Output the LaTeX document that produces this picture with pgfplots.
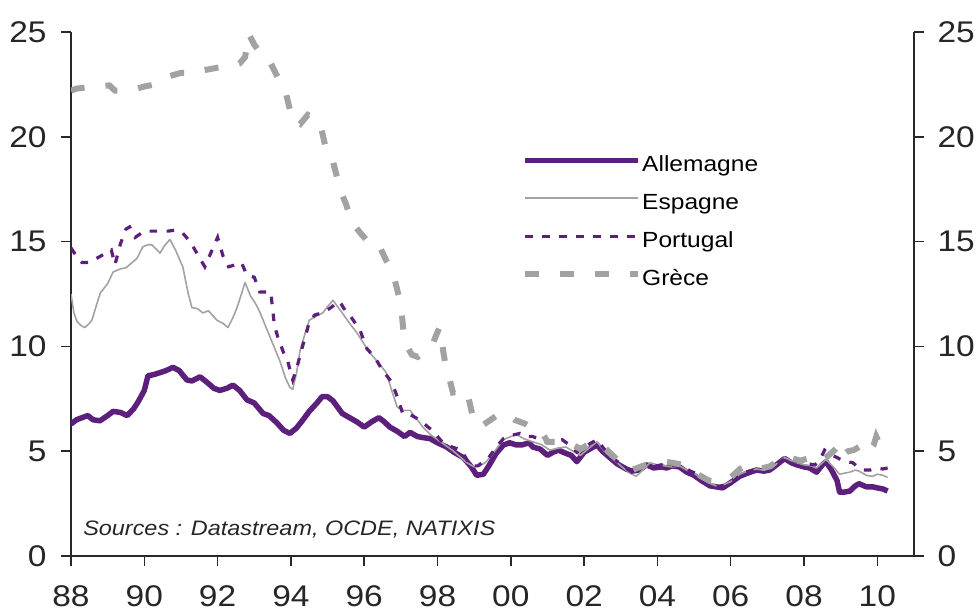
\documentclass[border=0pt]{standalone}
\usepackage{fontspec}
\setmainfont{Liberation Sans}[FakeStretch=1.12]
\usepackage{pgfplots}
\pgfplotsset{compat=1.18}
\definecolor{violet}{RGB}{92,32,124}
\definecolor{gris}{RGB}{162,162,162}
\definecolor{axe}{RGB}{40,40,40}

\pgfplotstableread{
x y
1988.0 6.3
1988.15 6.5
1988.3 6.6
1988.46 6.7
1988.6 6.5
1988.79 6.45
1989.0 6.7
1989.15 6.9
1989.35 6.85
1989.53 6.7
1989.7 7.0
1989.83 7.35
1990.0 7.9
1990.1 8.6
1990.25 8.65
1990.43 8.75
1990.6 8.85
1990.78 9.0
1990.95 8.85
1991.16 8.4
1991.3 8.35
1991.52 8.55
1991.7 8.3
1991.9 8.0
1992.06 7.9
1992.25 8.0
1992.42 8.15
1992.6 7.9
1992.8 7.45
1993.0 7.3
1993.24 6.8
1993.4 6.7
1993.62 6.35
1993.8 6.0
1993.97 5.85
1994.15 6.1
1994.33 6.5
1994.5 6.9
1994.71 7.3
1994.85 7.6
1995.0 7.6
1995.15 7.4
1995.4 6.8
1995.6 6.6
1995.8 6.4
1996.0 6.15
1996.2 6.4
1996.4 6.6
1996.55 6.4
1996.7 6.15
1996.9 5.95
1997.1 5.7
1997.25 5.9
1997.45 5.7
1997.6 5.65
1997.8 5.6
1998.0 5.4
1998.25 5.2
1998.45 4.95
1998.7 4.7
1998.9 4.3
1999.07 3.85
1999.25 3.9
1999.4 4.3
1999.6 4.9
1999.8 5.3
1999.97 5.4
2000.15 5.3
2000.3 5.3
2000.5 5.4
2000.6 5.2
2000.8 5.1
2001.0 4.8
2001.15 4.95
2001.3 5.05
2001.5 4.9
2001.65 4.8
2001.8 4.5
2002.0 4.95
2002.2 5.15
2002.35 5.3
2002.5 5.0
2002.7 4.7
2002.9 4.4
2003.15 4.15
2003.3 4.05
2003.5 4.1
2003.7 4.35
2003.9 4.2
2004.1 4.25
2004.25 4.2
2004.4 4.3
2004.6 4.25
2004.8 4.0
2005.0 3.85
2005.2 3.6
2005.43 3.35
2005.6 3.3
2005.78 3.25
2006.0 3.5
2006.24 3.8
2006.45 3.95
2006.7 4.1
2006.9 4.05
2007.06 4.1
2007.25 4.35
2007.47 4.65
2007.65 4.45
2007.8 4.35
2008.0 4.25
2008.15 4.2
2008.34 4.0
2008.5 4.35
2008.6 4.5
2008.75 4.1
2008.9 3.6
2008.97 3.05
2009.1 3.05
2009.25 3.1
2009.4 3.35
2009.5 3.45
2009.7 3.3
2009.87 3.3
2010.0 3.25
2010.15 3.2
2010.28 3.1
}\allemagne

\pgfplotstableread{
x y
1988.0 12.5
1988.08 11.6
1988.16 11.2
1988.27 11.0
1988.38 10.9
1988.5 11.1
1988.57 11.25
1988.7 12.0
1988.8 12.55
1989.0 13.0
1989.15 13.55
1989.35 13.7
1989.5 13.75
1989.6 13.9
1989.8 14.2
1989.96 14.75
1990.1 14.85
1990.2 14.85
1990.35 14.6
1990.43 14.45
1990.55 14.8
1990.7 15.1
1990.85 14.6
1991.05 13.8
1991.2 12.5
1991.3 11.85
1991.45 11.8
1991.6 11.6
1991.75 11.7
1991.98 11.25
1992.15 11.1
1992.28 10.9
1992.4 11.3
1992.53 11.85
1992.65 12.5
1992.75 13.05
1992.9 12.4
1993.05 12.0
1993.15 11.65
1993.3 11.0
1993.5 10.15
1993.7 9.3
1993.85 8.5
1993.97 8.05
1994.05 7.95
1994.15 8.7
1994.25 9.8
1994.4 10.7
1994.5 11.25
1994.7 11.45
1994.87 11.6
1995.0 11.9
1995.15 12.2
1995.25 11.95
1995.4 11.6
1995.6 11.1
1995.8 10.65
1996.0 10.1
1996.15 9.7
1996.35 9.3
1996.6 8.75
1996.75 7.9
1996.9 7.1
1997.05 6.95
1997.25 6.95
1997.45 6.5
1997.6 6.15
1997.8 5.8
1998.0 5.55
1998.2 5.3
1998.4 5.05
1998.6 4.75
1998.8 4.45
1999.0 4.25
1999.15 4.3
1999.3 4.45
1999.43 4.7
1999.6 5.1
1999.8 5.55
2000.0 5.7
2000.15 5.8
2000.35 5.6
2000.6 5.45
2000.85 5.3
2001.07 5.05
2001.3 5.15
2001.5 5.2
2001.7 5.0
2001.9 4.8
2002.1 5.1
2002.35 5.45
2002.55 5.0
2002.8 4.6
2003.1 4.15
2003.3 3.9
2003.42 3.8
2003.6 4.1
2003.8 4.45
2004.0 4.35
2004.2 4.3
2004.4 4.25
2004.6 4.3
2004.8 4.1
2005.0 3.95
2005.2 3.7
2005.45 3.45
2005.6 3.35
2005.8 3.4
2006.0 3.55
2006.24 3.9
2006.45 4.05
2006.7 4.15
2006.9 4.1
2007.06 4.15
2007.25 4.4
2007.47 4.7
2007.65 4.55
2007.8 4.45
2008.0 4.35
2008.2 4.3
2008.34 4.2
2008.5 4.45
2008.6 4.6
2008.8 4.25
2008.97 3.9
2009.1 3.95
2009.25 4.0
2009.4 4.1
2009.5 4.05
2009.7 3.85
2009.87 3.8
2010.0 3.9
2010.15 3.85
2010.28 3.75
}\espagne

\pgfplotstableread{
x y
1988.0 14.7
1988.15 14.3
1988.3 14.0
1988.5 14.0
1988.7 14.2
1988.9 14.4
1989.1 14.6
1989.2 13.9
1989.35 14.9
1989.5 15.6
1989.6 15.7
1989.75 15.2
1990.0 15.5
1990.2 15.5
1990.43 15.5
1990.65 15.5
1990.85 15.55
1991.05 15.4
1991.25 15.0
1991.45 14.4
1991.65 13.8
1991.85 14.6
1992.0 15.2
1992.15 14.3
1992.3 13.8
1992.5 13.9
1992.65 14.0
1992.8 13.4
1993.0 13.3
1993.15 12.6
1993.45 12.6
1993.55 11.0
1993.65 10.4
1993.8 9.7
1993.9 9.4
1994.0 8.7
1994.05 8.4
1994.15 8.9
1994.3 9.9
1994.4 10.5
1994.5 11.15
1994.65 11.5
1994.85 11.6
1995.05 11.8
1995.2 12.0
1995.33 12.15
1995.45 11.8
1995.6 11.5
1995.88 10.8
1996.07 9.9
1996.3 9.45
1996.5 8.85
1996.75 8.3
1996.9 7.6
1997.05 6.8
1997.25 6.75
1997.5 6.5
1997.85 6.0
1998.15 5.4
1998.4 5.2
1998.65 5.05
1998.9 4.3
1999.1 4.3
1999.4 4.7
1999.6 5.2
1999.8 5.6
2000.0 5.75
2000.25 5.85
2000.4 5.7
2000.6 5.7
2000.8 5.55
2001.0 5.4
2001.2 5.5
2001.4 5.55
2001.6 5.3
2001.8 4.95
2002.05 5.25
2002.35 5.55
2002.55 5.1
2002.8 4.65
2003.1 4.25
2003.3 4.0
2003.45 4.0
2003.65 4.35
2003.85 4.25
2004.1 4.35
2004.3 4.3
2004.5 4.35
2004.7 4.25
2004.9 4.05
2005.1 3.9
2005.3 3.55
2005.45 3.35
2005.65 3.3
2005.85 3.4
2006.05 3.6
2006.25 3.9
2006.5 4.05
2006.7 4.15
2006.9 4.1
2007.1 4.15
2007.3 4.45
2007.5 4.65
2007.7 4.55
2007.9 4.5
2008.1 4.4
2008.3 4.35
2008.45 4.65
2008.56 5.05
2008.7 4.85
2008.9 4.7
2009.0 4.6
2009.15 4.5
2009.33 4.45
2009.5 4.2
2009.6 4.1
2009.8 4.1
2010.0 4.2
2010.15 4.15
2010.28 4.2
}\portugal

\pgfplotstableread{
x y
1988.0 22.2
1988.15 22.3
1988.4 22.35
1988.7 22.4
1989.05 22.45
1989.2 22.2
1989.5 22.2
1989.8 22.3
1990.0 22.4
1990.3 22.5
1990.7 22.9
1991.0 23.05
1991.3 23.05
1991.7 23.2
1992.0 23.3
1992.3 23.35
1992.6 23.5
1992.75 23.8
1992.85 24.9
1993.0 24.4
1993.2 23.9
1993.45 23.5
1993.65 22.8
1993.85 22.2
1994.05 20.7
1994.25 20.6
1994.46 21.05
1994.65 20.9
1994.8 20.6
1995.0 19.1
1995.15 18.8
1995.35 17.45
1995.5 16.8
1995.67 15.9
1995.9 15.4
1996.1 15.0
1996.37 14.95
1996.6 14.1
1996.78 13.55
1997.0 12.0
1997.1 10.2
1997.3 9.6
1997.46 9.5
1997.65 9.8
1997.85 10.05
1998.05 10.9
1998.2 9.3
1998.42 7.8
1998.6 7.85
1998.8 7.9
1999.0 6.35
1999.2 6.2
1999.45 6.5
1999.7 6.8
1999.9 6.75
2000.1 6.5
2000.4 6.3
2000.7 6.0
2000.85 5.9
2001.0 5.45
2001.3 5.45
2001.6 5.4
2001.9 5.1
2002.1 5.3
2002.4 5.35
2002.6 5.1
2002.9 4.6
2003.1 4.3
2003.3 4.1
2003.6 4.3
2003.97 4.5
2004.2 4.5
2004.4 4.45
2004.7 4.35
2004.9 4.1
2005.15 3.85
2005.4 3.6
2005.6 3.55
2005.8 3.6
2006.0 3.75
2006.25 4.15
2006.5 4.35
2006.7 4.2
2006.9 4.2
2007.1 4.3
2007.3 4.6
2007.5 4.75
2007.7 4.65
2007.9 4.55
2008.2 4.7
2008.4 4.5
2008.6 4.7
2008.8 5.0
2008.97 5.3
2009.05 4.8
2009.2 5.0
2009.35 5.05
2009.5 5.2
2009.6 4.9
2009.75 4.95
2009.9 5.3
2009.97 5.7
2010.1 5.2
}\grece

\begin{document}
\begin{tikzpicture}
\path[use as bounding box] (-71bp,-56bp) rectangle (905bp,556bp);
\begin{axis}[
  scale only axis, width=843bp, height=524bp,
  xmin=1988, xmax=2011, ymin=0, ymax=25,
  axis x line*=bottom, axis y line*=left,
  xtick={1988,1990,...,2010},
  xticklabels={88,90,92,94,96,98,00,02,04,06,08,10},
  ytick={0,5,...,25},
  tick align=outside, major tick length=10bp,
  tick style={axe, line width=1.5bp},
  axis line style={axe, line width=1.5bp, -},
  ticklabel style={font=\fontsize{30}{30}\selectfont, text=black!85},
  xticklabel style={yshift=-16bp},
  yticklabel style={xshift=-11bp},
  /pgf/number format/assume math mode=true,
  legend style={draw=none, fill=none, at={(rel axis cs:0.535,0.767)}, anchor=north west,
    font=\fontsize{22}{22}\selectfont, row sep=16bp, inner sep=0pt,
    nodes={inner sep=1bp, text height=16bp, text depth=4bp}, cells={anchor=west}},
  legend image code/.code={\draw[#1] (0bp,5bp) -- (113bp,5bp);},
]
\addplot[violet, line width=5.5bp, line join=round] table {\allemagne};
\addlegendentry{Allemagne}
\addplot[gris, line width=1.6bp, line join=round] table {\espagne};
\addlegendentry{Espagne}
\addplot[violet, line width=3.2bp, dash pattern=on 7.5bp off 9.5bp] table {\portugal};
\addlegendentry{Portugal}
\addplot[gris, line width=6bp, dash pattern=on 14bp off 21bp] table {\grece};
\addlegendentry{Grèce}
\node[anchor=base west, font=\itshape\fontsize{21}{21}\selectfont, text=black!85, inner sep=0pt] at (axis cs:1988.33,1.0) {Sources : Datastream, OCDE, NATIXIS};
\end{axis}
\begin{axis}[
  scale only axis, width=843bp, height=524bp,
  xmin=1988, xmax=2011, ymin=0, ymax=25,
  axis x line=none, axis y line*=right,
  ytick={0,5,...,25},
  tick align=outside, major tick length=10bp,
  tick style={axe, line width=1.5bp},
  axis line style={axe, line width=1.5bp, -},
  ticklabel style={font=\fontsize{30}{30}\selectfont, text=black!85},
  yticklabel style={xshift=10bp},
  /pgf/number format/assume math mode=true,
]
\end{axis}
\end{tikzpicture}
\end{document}
